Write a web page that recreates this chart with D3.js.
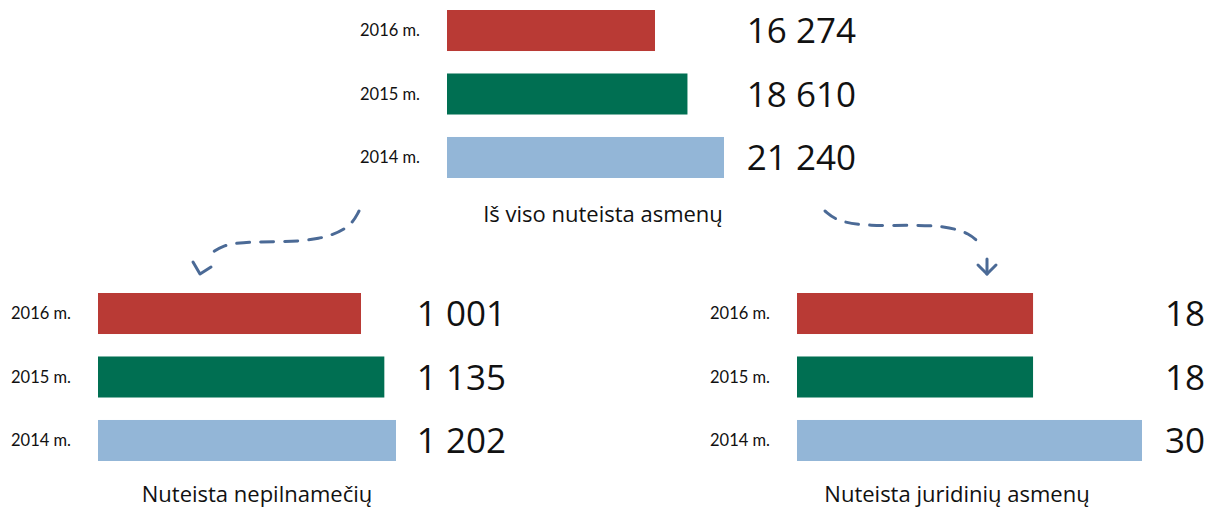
<!DOCTYPE html>
<html>
<head>
<meta charset="utf-8">
<script src="https://cdn.jsdelivr.net/npm/d3@7"></script>
<style>
  body { margin: 0; background: #fff; }
  svg { display: block; }
</style>
</head>
<body>
<div id="chart"></div>
<script>
const width = 1208
const height = 508

const years = ["2016 m.", "2015 m.", "2014 m."]
const totalConvicted = [16274, 18610, 21240]
const minorsConvicted = [1001, 1135, 1202]
const legalConvicted = [18, 18, 30]
const titles = ["Iš viso nuteista asmenų", "Nuteista nepilnamečių", "Nuteista juridinių asmenų"]

const colors = ["#b93a35", "#006f52", "#93b6d7"]
const arrowColor = "#4b6a96"
const labelFont = "Lato, 'Open Sans', sans-serif"
const numberFont = "'Open Sans', Lato, sans-serif"

// layout of the three small bar panels
const panels = [
  {values: totalConvicted, title: titles[0], x0: 447, barMax: 277, floor: 1304, yTop: 10, labelX: 420, valueX: 856, titleX: 603, titleY: 222},
  {values: minorsConvicted, title: titles[1], x0: 98, barMax: 298, floor: -509, yTop: 293, labelX: 71, valueX: 506, titleX: 257, titleY: 502},
  {values: legalConvicted, title: titles[2], x0: 797, barMax: 345, floor: -8, yTop: 293, labelX: 770, valueX: 1205, titleX: 957, titleY: 502}
]

const fmt = v => d3.format(",d")(v).replace(/,/g, " ")

const svg = d3.select("#chart")
  .append("svg")
  .attr("width", width)
  .attr("height", height)
  .attr("viewBox", [0, 0, width, height])

panels.forEach(p => {
  const x = d3.scaleLinear()
    .domain([p.floor, d3.max(p.values)])
    .range([p.x0, p.x0 + p.barMax])

  const y = d3.scaleBand()
    .domain(years)
    .range([p.yTop, p.yTop + 168])
    .paddingInner(0.354)
    .paddingOuter(0)

  const rows = years.map((yr, i) => ({year: yr, value: p.values[i], color: colors[i]}))

  const g = svg.append("g")

  g.selectAll("rect")
    .data(rows)
    .join("rect")
      .attr("x", p.x0)
      .attr("y", d => y(d.year))
      .attr("width", d => x(d.value) - p.x0)
      .attr("height", y.bandwidth())
      .attr("fill", d => d.color)

  g.selectAll("text.year")
    .data(rows)
    .join("text")
      .attr("class", "year")
      .attr("x", p.labelX)
      .attr("y", d => y(d.year) + y.bandwidth() / 2)
      .attr("dy", "0.36em")
      .attr("text-anchor", "end")
      .attr("font-family", labelFont)
      .attr("font-size", 16.5)
      .attr("fill", "#111")
      .text(d => d.year)

  g.selectAll("text.value")
    .data(rows)
    .join("text")
      .attr("class", "value")
      .attr("x", p.valueX)
      .attr("y", d => y(d.year) + y.bandwidth() / 2)
      .attr("dy", "0.37em")
      .attr("text-anchor", "end")
      .attr("font-family", numberFont)
      .attr("font-size", 35)
      .attr("fill", "#111")
      .text(d => fmt(d.value))

  g.append("text")
    .attr("x", p.titleX)
    .attr("y", p.titleY)
    .attr("text-anchor", "middle")
    .attr("font-family", numberFont)
    .attr("font-size", 22)
    .attr("fill", "#111")
    .text(p.title)
})

// dashed curved arrows from the total towards the two breakdowns
const curve = d3.line().curve(d3.curveBasis)

const arrows = [
  {path: [[359, 211], [350, 228], [320, 240], [280, 242], [240, 242], [222, 246], [213, 252]],
   head: [[193, 262], [200, 274], [211, 267]]},
  {path: [[825, 211], [838, 222], [870, 226], [910, 225], [945, 226], [970, 233], [982, 246]],
   head: [[978, 265], [987, 274], [996, 265]], shaft: [[987, 259], [987, 274]]}
]

arrows.forEach(a => {
  svg.append("path")
    .attr("d", curve(a.path))
    .attr("fill", "none")
    .attr("stroke", arrowColor)
    .attr("stroke-width", 3)
    .attr("stroke-dasharray", "13 11")
    .attr("stroke-linecap", "round")

  if (a.shaft) {
    svg.append("path")
      .attr("d", d3.line()(a.shaft))
      .attr("fill", "none")
      .attr("stroke", arrowColor)
      .attr("stroke-width", 3)
      .attr("stroke-linecap", "round")
  }

  svg.append("path")
    .attr("d", d3.line()(a.head))
    .attr("fill", "none")
    .attr("stroke", arrowColor)
    .attr("stroke-width", 3)
    .attr("stroke-linecap", "round")
    .attr("stroke-linejoin", "round")
})
</script>
</body>
</html>
